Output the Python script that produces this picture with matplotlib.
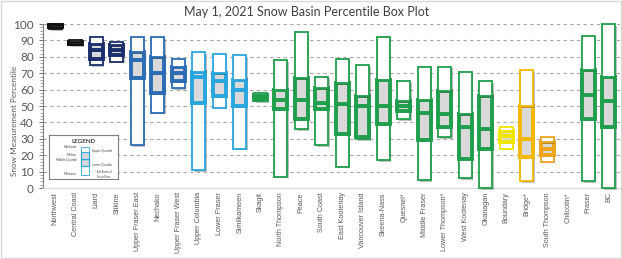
""" Snow basin percentile box plot, May 1 2021.

Each basin is drawn as four stacked bars: min-Q1 and Q3-max as white
boxes, Q1-median and median-Q3 as grey boxes with a heavy outline.
"""

import numpy as np
import matplotlib
matplotlib.use("Agg")
import matplotlib.pyplot as plt
import matplotlib.patheffects as pe

basins = ["Northwest", "Central Coast", "Liard", "Stikine", "Upper Fraser East",
          "Nechako", "Upper Fraser West", "Upper Columbia", "Lower Fraser",
          "Similkameen", "Skagit", "North Thompson", "Peace", "South Coast",
          "East Kootenay", "Vancouver Island", "Skeena-Nass", "Quesnel*",
          "Middle Fraser", "Lower Thompson*", "West Kootenay", "Okanagan",
          "Boundary", "Bridge*", "South Thompson", "Chilcotin*", "Fraser", "BC"]

nan = np.nan
minimum = [97, 87, 75, 77, 26, 46, 61, 11, 49, 24, 53, 7, 36, 26, 13, 30, 17, 42,
           5, 31, 6, 0, 24, 4, 16, nan, 4, 0]
lower_q = [98, 88, 79, 81, 67, 58, 65, 52, 56, 50, 54, 48, 42, 48, 33, 31, 39, 47,
           29, 37, 18, 24, 28, 19, 20, nan, 42, 37]
median = [99, 88.5, 84, 84, 78, 70, 70, 68, 65, 60, 55.5, 54, 54, 52, 51, 50, 50, 50,
          46, 45, 37, 36, 32, 30, 24, nan, 57, 53]
upper_q = [99.5, 89, 88, 87, 83, 80, 74, 71, 70, 66, 57, 60, 67, 61, 64, 56, 66, 53,
           54, 59, 45, 56, 35, 50, 28, nan, 72, 68]
maximum = [100, 90, 92, 89, 92, 92, 79, 83, 82, 81, 58, 78, 95, 68, 79, 75, 92, 65,
           74, 74, 71, 65, 37, 72, 31, nan, 93, 100]

colours = ["#111111"] * 2 + ["#1b2f6e"] * 2 + ["#2c6cb5"] * 3 + ["#2aa6df"] * 3 \
          + ["#1f9e4c"] * 12 + ["#f2e600", "#f3b800", "#eea51c", "#1f9e4c",
                                "#1f9e4c", "#1f9e4c"]

y_ticks = list(range(0, 101, 10))

plt.rcParams['font.family'] = ['Lato', 'DejaVu Sans']

fig = plt.figure(figsize=(6.22, 2.59), dpi=100)
ax = fig.add_axes([0.069, 0.274, 0.928, 0.633])

x = np.arange(len(basins))
shadow = [pe.SimplePatchShadow(offset=(1.2, -1.2), alpha=0.35), pe.Normal()]
width = 0.62

for i in range(len(basins)):
    if np.isnan(median[i]):
        continue
    c = colours[i]
    segs = [(minimum[i], lower_q[i], "white", 1.3),
            (lower_q[i], median[i], "#d9d9d9", 2.8),
            (median[i], upper_q[i], "#d9d9d9", 2.8),
            (upper_q[i], maximum[i], "white", 1.3)]
    for lo, hi, fill, lw in segs:
        bars = ax.bar(x[i], hi - lo, bottom=lo, width=width, color=fill,
                      edgecolor=c, linewidth=lw, zorder=3, clip_on=False)
        for b in bars:
            b.set_path_effects(shadow)

ax.set_xlim(-0.6, 27.55)
ax.set_ylim(0, 100)
ax.set_yticks(y_ticks)
ax.set_yticks(range(0, 101, 2), minor=True)
ax.set_xticks(x)
ax.set_xticklabels(basins, rotation=90, fontsize=5.2, color="#595959",
                   family=["Liberation Sans", "DejaVu Sans"])
ax.tick_params(axis="y", labelsize=8.5, colors="#595959", length=3, width=0.6)
ax.tick_params(axis="y", which="minor", length=2, width=0.5, color="#7f7f7f")
ax.tick_params(axis="x", length=0, pad=3)
ax.grid(axis="y", linestyle=(0, (3, 3)), color="#a6a6a6", linewidth=0.8, zorder=0)
for side in ["top", "right"]:
    ax.spines[side].set_visible(False)
ax.spines["left"].set_color("#7f7f7f")
ax.spines["bottom"].set_color("#d9d9d9")
ax.set_ylabel("Snow Measurement Percentile", fontsize=5.9, color="#595959")
ax.yaxis.set_label_coords(-0.044, 0.41)
fig.text(0.493, 0.955, "May 1, 2021 Snow Basin Percentile Box Plot", ha="center",
         va="center", fontsize=9, color="#404040")

# legend inset
lg = fig.add_axes([0.079, 0.31, 0.11, 0.168])
lg.set_xlim(0, 1)
lg.set_ylim(0, 1)
lg.set_xticks([])
lg.set_yticks([])
for s in lg.spines.values():
    s.set_color("#7f7f7f")
    s.set_linewidth(0.8)
lg.text(0.5, 0.86, "LEGEND", ha="center", va="center", fontsize=4.5,
        fontweight="bold", color="#404040")
lg_box = [0.08, 0.3, 0.45, 0.62, 0.74]
for j in range(4):
    fill = "#d9d9d9" if j in (1, 2) else "white"
    lg.bar(0.52, lg_box[j + 1] - lg_box[j], bottom=lg_box[j], width=0.12,
           color=fill, edgecolor="#2aa6df", linewidth=0.9 if j in (1, 2) else 0.6)
for txt, yy in [("Maximum", 0.74), ("Median", 0.55), ("Middle Quartile", 0.45),
                ("Minimum", 0.1)]:
    lg.text(0.40, yy, txt, ha="right", va="center", fontsize=2.2, color="#404040")
for txt, yy in [("Upper Quartile", 0.64), ("Lower Quartile", 0.32)]:
    lg.text(0.62, yy, txt, ha="left", va="center", fontsize=2.2, color="#404040")
lg.text(0.8, 0.1, "* Sub-Basins of\nFraser River", ha="center", va="center",
        fontsize=1.8, color="#404040")

# light frame round the whole picture
fig.patches.append(plt.Rectangle((0.002, 0.004), 0.996, 0.992, transform=fig.transFigure,
                                 fill=False, edgecolor="#d9d9d9", linewidth=1))

fig.savefig("out.png", dpi=100)
